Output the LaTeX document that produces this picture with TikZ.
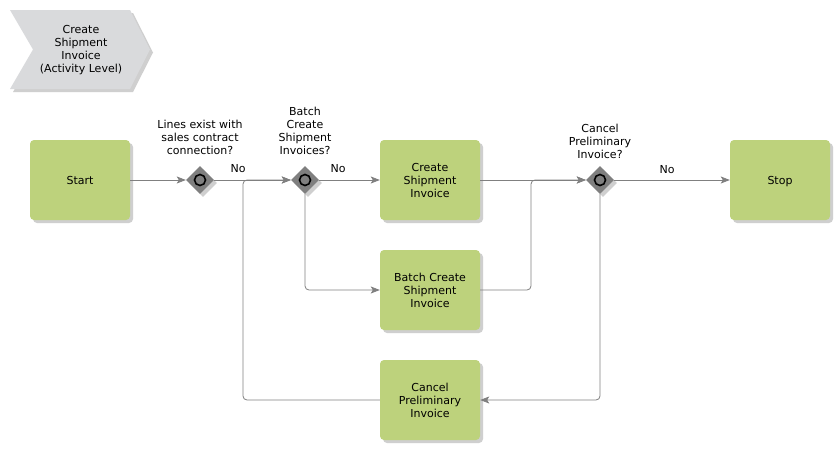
\documentclass[tikz,border=0pt]{standalone}
\usepackage{fontspec}
\setmainfont{DejaVu Sans}
\usetikzlibrary{arrows.meta,shadows,shapes.geometric}

\definecolor{fncol}{HTML}{BDD27C}
\definecolor{gwcol}{HTML}{7F7F7F}
\definecolor{lncol}{HTML}{808080}
\definecolor{hdcol}{HTML}{D9DADC}
\definecolor{shcol}{HTML}{CFCFCF}

\tikzset{
	txt/.style={font=\fontsize{11}{13}\selectfont, align=center, inner sep=0pt},
	shade3/.style={drop shadow={shadow xshift=3pt, shadow yshift=-3pt, fill=shcol, opacity=1}},
	fn/.style={txt, fill=fncol, rounded corners=4pt, minimum width=100pt, minimum height=80pt, shade3},
	gw/.style={diamond, fill=gwcol, minimum size=28pt, inner sep=0pt, shade3},
	flow/.style={draw=lncol, color=lncol, line width=0.8pt, -{Stealth[length=9pt,width=7pt,inset=2pt]}},
}

\begin{document}
\begin{tikzpicture}[x=1pt, y=-1pt]
	\fill[white] (0,0) rectangle (840,450);
	\useasboundingbox (0,0) rectangle (840,450);

	% title chevron
	\fill[hdcol, shade3] (10,10) -- (130,10) -- (150,49.5) -- (130,89) -- (10,89) -- (33,49.5) -- cycle;
	\node[txt] (title) at (81,50) {Create\\Shipment\\Invoice\\(Activity Level)};

	\node[fn] (start) at (80,180) {Start};
	\node[gw] (g1) at (200,180) {};
	\node[gw] (g2) at (305,180) {};
	\node[fn] (csi) at (430,180) {Create\\Shipment\\Invoice};
	\node[fn] (bcsi) at (430,290) {Batch Create\\Shipment\\Invoice};
	\node[fn] (cpi) at (430,400) {Cancel\\Preliminary\\Invoice};
	\node[gw] (g3) at (600,180) {};
	\node[fn, text depth=0pt] (stop) at (780,180) {Stop};

	\foreach \g in {g1, g2, g3}
		\draw[line width=1.6pt, fill=gwcol] (\g) circle (5.5pt);

	\node[txt] (q1) at (200,137) {Lines exist with\\sales contract\\connection?};
	\node[txt] (q2) at (305,131) {Batch\\Create\\Shipment\\Invoices?};
	\node[txt] (q3) at (600,141) {Cancel\\Preliminary\\Invoice?};

	\node[txt] (no1) at (238,169) {No};
	\node[txt] (no2) at (338,169) {No};
	\node[txt] (no3) at (667,170) {No};

	\coordinate (m2) at (243,180);
	\coordinate (m3) at (531,180);

	\draw[flow] (start) -- (g1);
	\draw[flow] (g1) -- (g2);
	\draw[flow] (g2) -- (csi);
	\draw[flow, rounded corners=4pt] (g2) |- (bcsi);
	\draw[flow] (csi) -- (g3);
	\draw[flow, rounded corners=4pt] (bcsi) -| (m3) -- (g3);
	\draw[flow] (g3) -- (stop);
	\draw[flow, rounded corners=4pt] (g3) |- (cpi);
	\draw[flow, rounded corners=4pt] (cpi) -| (m2) -- (g2);
\end{tikzpicture}
\end{document}
